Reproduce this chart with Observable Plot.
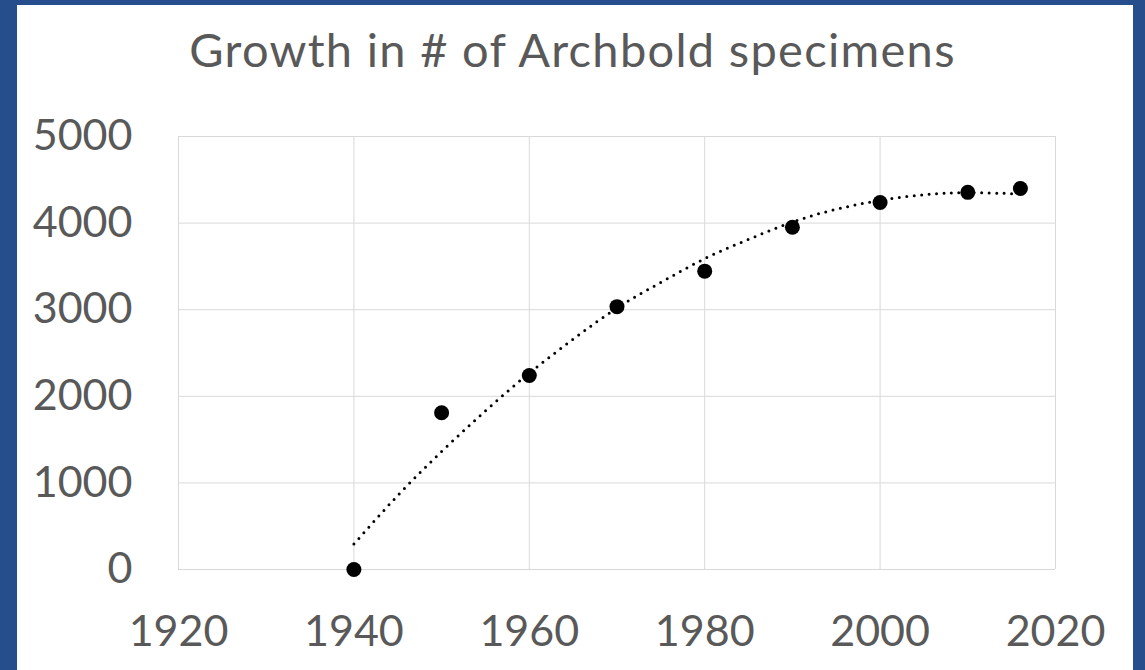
<!DOCTYPE html>
<html>
<head>
<meta charset="utf-8">
<script src="https://cdn.jsdelivr.net/npm/d3@7"></script>
<script src="https://cdn.jsdelivr.net/npm/@observablehq/plot@0.6"></script>
<style>
  html, body { margin: 0; padding: 0; background: #ffffff; }
  #frame { position: relative; width: 1145px; height: 670px; background: #ffffff; overflow: hidden; font-family: Lato, "Open Sans", sans-serif; }
  .border { position: absolute; background: #264e8c; }
  #title { position: absolute; left: 0; width: 1145px; top: 21px; text-align: center; font-size: 47px; color: #595959; line-height: 1.2; letter-spacing: 1.3px; }
  #chart { position: absolute; left: 0; top: 100px; }
</style>
</head>
<body>
<div id="frame">
  <div id="title">Growth in # of Archbold specimens</div>
  <div id="chart"></div>
  <div class="border" style="left:0;top:0;width:17px;height:670px"></div>
  <div class="border" style="left:0;top:0;width:1145px;height:5px"></div>
  <div class="border" style="left:1133px;top:0;width:12px;height:670px"></div>
</div>
<script>
// Observed data points
const years = [1940, 1950, 1960, 1970, 1980, 1990, 2000, 2010, 2016];
const specimens = [0, 1810, 2240, 3035, 3445, 3952, 4238, 4355, 4400];

// Trendline (dotted)
const trendYears = [1940, 1945, 1950, 1955, 1960, 1965, 1970, 1975, 1980, 1985, 1990, 1995, 2000, 2005, 2010, 2015, 2016];
const trendValues = [294, 855, 1362, 1832, 2268, 2659, 3020, 3315, 3590, 3812, 4012, 4160, 4262, 4328, 4352, 4340, 4335];

// Axis ticks
const xTicks = [1920, 1940, 1960, 1980, 2000, 2020];
const yTicks = [0, 1000, 2000, 3000, 4000, 5000];

const points = years.map((y, i) => ({year: y, value: specimens[i]}));
const trend = trendYears.map((y, i) => ({year: y, value: trendValues[i]}));

const chart = Plot.plot({
  width: 1145,
  height: 570,
  marginLeft: 178,
  marginRight: 90,
  marginTop: 36,
  marginBottom: 101,
  style: {background: "transparent", fontFamily: "Lato, 'Open Sans', sans-serif", color: "#595959"},
  x: {domain: [1920, 2020]},
  y: {domain: [0, 5000]},
  marks: [
    Plot.gridX(xTicks, {stroke: "#d9d9d9", strokeOpacity: 1, strokeWidth: 1}),
    Plot.gridY(yTicks, {stroke: "#d9d9d9", strokeOpacity: 1, strokeWidth: 1}),
    Plot.axisX(xTicks, {tickSize: 0, tickPadding: 46, fontSize: 43, tickFormat: "d", label: null, fill: "#595959"}),
    Plot.axisY(yTicks, {tickSize: 0, tickPadding: 46, fontSize: 43, tickFormat: "d", label: null, fill: "#595959"}),
    Plot.line(trend, {x: "year", y: "value", stroke: "#000000", strokeWidth: 3, strokeDasharray: "0,7.5", strokeLinecap: "round", curve: "natural"}),
    Plot.dot(points, {x: "year", y: "value", r: 7.5, fill: "#000000", stroke: "none"})
  ]
});
document.getElementById("chart").appendChild(chart);
</script>
</body>
</html>
